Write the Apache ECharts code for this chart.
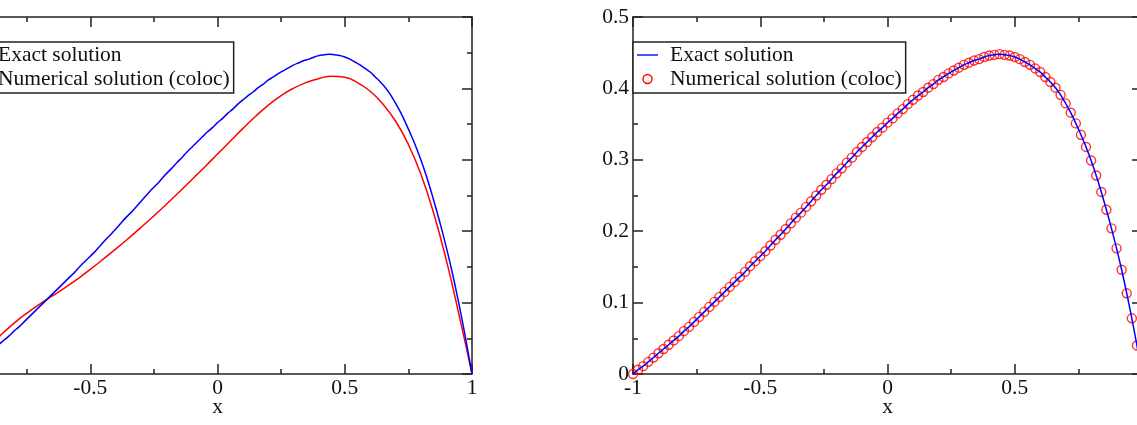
<!DOCTYPE html>
<html>
<head>
<meta charset="utf-8">
<script src="https://cdn.jsdelivr.net/npm/echarts@6/dist/echarts.min.js"></script>
<style>
  html, body { margin: 0; padding: 0; background: #fff; }
  #chart { width: 1137px; height: 425px; }
</style>
</head>
<body>
<div id="chart"></div>
<script>
// collocation nodes (step 0.02) and the exact solution
const xNodes = [
  -1.00, -0.98, -0.96, -0.94, -0.92, -0.90, -0.88, -0.86, -0.84, -0.82,
  -0.80, -0.78, -0.76, -0.74, -0.72, -0.70, -0.68, -0.66, -0.64, -0.62,
  -0.60, -0.58, -0.56, -0.54, -0.52, -0.50, -0.48, -0.46, -0.44, -0.42,
  -0.40, -0.38, -0.36, -0.34, -0.32, -0.30, -0.28, -0.26, -0.24, -0.22,
  -0.20, -0.18, -0.16, -0.14, -0.12, -0.10, -0.08, -0.06, -0.04, -0.02,
  0.00, 0.02, 0.04, 0.06, 0.08, 0.10, 0.12, 0.14, 0.16, 0.18,
  0.20, 0.22, 0.24, 0.26, 0.28, 0.30, 0.32, 0.34, 0.36, 0.38,
  0.40, 0.42, 0.44, 0.46, 0.48, 0.50, 0.52, 0.54, 0.56, 0.58,
  0.60, 0.62, 0.64, 0.66, 0.68, 0.70, 0.72, 0.74, 0.76, 0.78,
  0.80, 0.82, 0.84, 0.86, 0.88, 0.90, 0.92, 0.94, 0.96, 0.98,
  1.00,
]
const exactY = [
  0.000, 0.006, 0.011, 0.017, 0.023, 0.029, 0.035, 0.041, 0.047, 0.053,
  0.060, 0.066, 0.073, 0.080, 0.087, 0.094, 0.101, 0.108, 0.115, 0.122,
  0.129, 0.136, 0.143, 0.151, 0.158, 0.165, 0.172, 0.180, 0.188, 0.195,
  0.203, 0.211, 0.219, 0.226, 0.234, 0.242, 0.250, 0.258, 0.265, 0.273,
  0.281, 0.288, 0.296, 0.303, 0.311, 0.318, 0.325, 0.332, 0.339, 0.345,
  0.352, 0.358, 0.365, 0.371, 0.378, 0.384, 0.390, 0.395, 0.401, 0.406,
  0.412, 0.416, 0.421, 0.425, 0.429, 0.433, 0.436, 0.439, 0.441, 0.444,
  0.446, 0.447, 0.448, 0.447, 0.446, 0.444, 0.441, 0.437, 0.433, 0.428,
  0.423, 0.416, 0.409, 0.401, 0.391, 0.379, 0.366, 0.351, 0.335, 0.318,
  0.299, 0.278, 0.255, 0.230, 0.204, 0.176, 0.146, 0.113, 0.078, 0.040,
  0.000,
]
// right panel circles sit on the exact curve at this scale
const colocY = exactY

// left panel: the less accurate numerical solution (red)
const xCoarse = [
  -1.00, -0.95, -0.90, -0.85, -0.80, -0.75, -0.70, -0.65, -0.60, -0.55,
  -0.50, -0.45, -0.40, -0.35, -0.30, -0.25, -0.20, -0.15, -0.10, -0.05,
  0.00, 0.05, 0.10, 0.15, 0.20, 0.25, 0.30, 0.35, 0.40, 0.45,
  0.50, 0.55, 0.60, 0.65, 0.70, 0.75, 0.80, 0.85, 0.90, 0.95,
  1.00,
]
const approxY = [
  0.000, 0.019, 0.037, 0.055, 0.071, 0.085, 0.0975, 0.109, 0.1205, 0.133,
  0.1465, 0.1605, 0.175, 0.190, 0.2055, 0.2215, 0.238, 0.255, 0.2725, 0.290,
  0.308, 0.326, 0.344, 0.361, 0.3765, 0.390, 0.4005, 0.4085, 0.414, 0.417,
  0.4155, 0.408, 0.396, 0.378, 0.354, 0.3215, 0.279, 0.2245, 0.158, 0.0815,
  0.000,
]

const names = ['Exact solution', 'Numerical solution (coloc)']

const font = { fontFamily: 'Liberation Serif', fontSize: 21.5, color: '#111' }
const ink = { color: '#222', width: 1.5 }

function xAxis(grid, position, labels) {
  return {
    type: 'value', gridIndex: grid, position,
    min: -1, max: 1, interval: 0.5,
    axisLine: { onZero: false, lineStyle: ink },
    axisTick: { inside: true, length: 10, lineStyle: ink },
    minorTick: { show: true, splitNumber: 2, length: 5, lineStyle: ink },
    splitLine: { show: false },
    axisLabel: { show: labels, margin: 3, ...font },
    name: labels ? 'x' : '', nameLocation: 'middle', nameGap: 22,
    nameMoveOverlap: false, nameTextStyle: font,
  }
}

function yAxis(grid, position, labels) {
  return {
    type: 'value', gridIndex: grid, position,
    min: 0, max: 0.5, interval: 0.1,
    axisLine: { onZero: false, lineStyle: ink },
    axisTick: { inside: true, length: 10, lineStyle: ink },
    minorTick: { show: true, splitNumber: 2, length: 5, lineStyle: ink },
    splitLine: { show: false },
    axisLabel: { show: labels, margin: 4, ...font },
  }
}

function legend(left) {
  return {
    left, top: 42, orient: 'vertical',
    selectedMode: false,
    backgroundColor: '#fff',
    borderColor: '#222', borderWidth: 1.5, borderRadius: 0,
    padding: [2, 4, 3, 4],
    itemGap: 2, itemWidth: 21, itemHeight: 9,
    textStyle: { ...font, padding: [0, 0, 0, 7] },
    data: [
      { name: names[0], icon: 'path://M0,0h21v2h-21z',
        itemStyle: { color: '#5050ff', borderWidth: 0 } },
      { name: names[1], icon: 'circle',
        itemStyle: { color: 'rgba(0,0,0,0)', borderColor: '#ff0000', borderWidth: 1.4 } },
    ],
  }
}

const chart = echarts.init(document.getElementById('chart'))
chart.setOption({
  animation: false,
  backgroundColor: '#fff',
  grid: [
    { left: -37, top: 17, width: 509, height: 357, outerBoundsMode: 'none', containLabel: false },
    { left: 633, top: 17, width: 509, height: 357, outerBoundsMode: 'none', containLabel: false },
  ],
  xAxis: [xAxis(0, 'bottom', true), xAxis(0, 'top', false), xAxis(1, 'bottom', true), xAxis(1, 'top', false)],
  yAxis: [yAxis(0, 'left', true), yAxis(0, 'right', false), yAxis(1, 'left', true), yAxis(1, 'right', false)],
  legend: [legend(-39), legend(633)],
  series: [
    {
      name: names[0], type: 'line', xAxisIndex: 0, yAxisIndex: 0,
      symbol: 'none', smooth: 0.3, z: 3, color: '#0000ff',
      lineStyle: { color: '#0000ff', width: 1.5 },
      data: xNodes.map((x, i) => [x, exactY[i]]),
    },
    {
      name: names[1], type: 'line', xAxisIndex: 0, yAxisIndex: 0,
      symbol: 'none', smooth: 0.5, z: 2, color: '#ff0000',
      lineStyle: { color: '#ff0000', width: 1.5 },
      data: xCoarse.map((x, i) => [x, approxY[i]]),
    },
    {
      name: names[1], type: 'scatter', xAxisIndex: 2, yAxisIndex: 2,
      symbol: 'circle', symbolSize: 9, z: 2,
      itemStyle: { color: 'rgba(0,0,0,0)', borderColor: '#ff0000', borderWidth: 1.4 },
      data: xNodes.map((x, i) => [x, colocY[i]]),
    },
    {
      name: names[0], type: 'line', xAxisIndex: 2, yAxisIndex: 2,
      symbol: 'none', smooth: 0.3, z: 3, color: '#0000ff',
      lineStyle: { color: '#0000ff', width: 1.5 },
      data: xNodes.map((x, i) => [x, exactY[i]]),
    },
  ],
})
</script>
</body>
</html>
